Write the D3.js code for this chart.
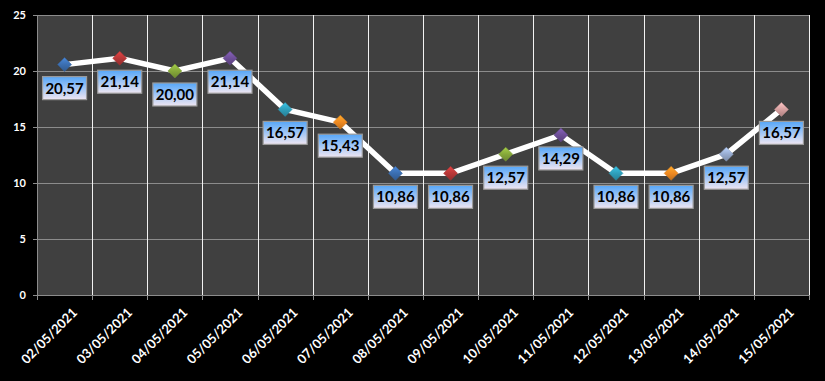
<!DOCTYPE html>
<html><head><meta charset="utf-8">
<script src="https://cdn.jsdelivr.net/npm/d3@7"></script>
<style>
html,body{margin:0;padding:0;background:#000;}
svg{display:block;}
</style></head>
<body>
<svg id="chart" width="825" height="381"></svg>
<script>
const categories = ["02/05/2021","03/05/2021","04/05/2021","05/05/2021","06/05/2021","07/05/2021","08/05/2021","09/05/2021","10/05/2021","11/05/2021","12/05/2021","13/05/2021","14/05/2021","15/05/2021"];
const values = [20.57,21.14,20.00,21.14,16.57,15.43,10.86,10.86,12.57,14.29,10.86,10.86,12.57,16.57];
const valueLabels = ["20,57","21,14","20,00","21,14","16,57","15,43","10,86","10,86","12,57","14,29","10,86","10,86","12,57","16,57"];
const yTicks = [0,5,10,15,20,25];
const markerColors = ["#3b6eb0","#b83838","#86a83a","#6e4f98","#2f9fbb","#ef8a22","#3b6eb0","#b83838","#86a83a","#6e4f98","#2f9fbb","#ef8a22","#98acd0","#d6a0a0"];

const svg = d3.select("#chart");
const W = 825, H = 381;
const m = {left:37, right:16, top:15, bottom:86};
const pw = W - m.left - m.right, ph = H - m.top - m.bottom;

svg.append("rect").attr("width",W).attr("height",H).attr("fill","#000");

const x = d3.scaleBand().domain(categories).range([m.left, m.left+pw]).paddingInner(0).paddingOuter(0);
const y = d3.scaleLinear().domain([0,25]).range([m.top+ph, m.top]);

const defs = svg.append("defs");
const lg = defs.append("linearGradient").attr("id","lblgrad").attr("x1",0).attr("y1",0).attr("x2",0).attr("y2",1);
lg.append("stop").attr("offset","0%").attr("stop-color","#55a6f8");
lg.append("stop").attr("offset","100%").attr("stop-color","#efe6f2");

markerColors.forEach((c,i)=>{
  const g = defs.append("linearGradient").attr("id","mg"+i).attr("x1",0).attr("y1",0).attr("x2",0).attr("y2",1);
  g.append("stop").attr("offset","0%").attr("stop-color", d3.color(c).brighter(0.6));
  g.append("stop").attr("offset","50%").attr("stop-color", c);
  g.append("stop").attr("offset","100%").attr("stop-color", d3.color(c).darker(0.6));
});

// plot area
svg.append("rect").attr("x",m.left).attr("y",m.top).attr("width",pw).attr("height",ph).attr("fill","#404040");

// horizontal gridlines
svg.append("g").selectAll("line").data(yTicks).join("line")
  .attr("x1",m.left-4).attr("x2",m.left+pw)
  .attr("y1",d=>Math.round(y(d))+0.5).attr("y2",d=>Math.round(y(d))+0.5)
  .attr("stroke","#8c8c8c").attr("stroke-width",1);

// vertical gridlines at category boundaries
const bounds = categories.map(c=>x(c)).concat([m.left+pw]);
svg.append("g").selectAll("line").data(bounds.slice(1)).join("line")
  .attr("x1",d=>Math.round(d)+0.5).attr("x2",d=>Math.round(d)+0.5)
  .attr("y1",m.top).attr("y2",m.top+ph)
  .attr("stroke","#f2f2f2").attr("stroke-width",1);

// axes lines
svg.append("line").attr("x1",m.left+0.5).attr("x2",m.left+0.5).attr("y1",m.top).attr("y2",m.top+ph)
  .attr("stroke","#8c8c8c");
svg.append("line").attr("x1",m.left).attr("x2",m.left+pw).attr("y1",Math.round(y(0))+0.5).attr("y2",Math.round(y(0))+0.5)
  .attr("stroke","#8c8c8c");
// x tick marks
svg.append("g").selectAll("line").data(bounds).join("line")
  .attr("x1",d=>Math.round(d)+0.5).attr("x2",d=>Math.round(d)+0.5)
  .attr("y1",m.top+ph).attr("y2",m.top+ph+5)
  .attr("stroke","#8c8c8c");

// y labels
svg.append("g").selectAll("text").data(yTicks).join("text")
  .attr("x",26).attr("y",d=>y(d)).attr("dy","0.35em")
  .attr("text-anchor","end").attr("fill","#fff")
  .attr("font-family","Lato, 'Open Sans', sans-serif").attr("font-weight","bold").attr("font-size","11px")
  .text(d=>d);

// x labels
svg.append("g").selectAll("text").data(categories).join("text")
  .attr("transform",d=>`translate(${x(d)+x.bandwidth()/2+7},${m.top+ph+12}) rotate(-45)`)
  .attr("text-anchor","end").attr("dy","0.7em").attr("fill","#fff")
  .attr("font-family","Lato, 'Open Sans', sans-serif").attr("font-weight","bold").attr("font-size","13px")
  .text(d=>d);

const cx = d => x(d)+x.bandwidth()/2;

// line
const line = d3.line().x((d,i)=>cx(categories[i])).y(d=>y(d));
svg.append("path").datum(values).attr("d",line).attr("fill","none")
  .attr("stroke","#fff").attr("stroke-width",5.5).attr("stroke-linejoin","miter");

// markers
const ms = 7;
svg.append("g").selectAll("path").data(values).join("path")
  .attr("d",(d,i)=>{const px=cx(categories[i]), py=y(d); return `M${px},${py-ms}L${px+ms},${py}L${px},${py+ms}L${px-ms},${py}Z`;})
  .attr("fill",(d,i)=>`url(#mg${i})`)
  .attr("stroke",(d,i)=>d3.color(markerColors[i]).darker(0.3)).attr("stroke-width",0.5);

// data labels
const lbl = svg.append("g").selectAll("g").data(values).join("g")
  .attr("transform",(d,i)=>`translate(${cx(categories[i])},${y(d)+12})`);
const bw = 44, bh = 23;
lbl.append("rect").attr("x",-bw/2).attr("y",0).attr("width",bw).attr("height",bh)
  .attr("fill","url(#lblgrad)").attr("stroke","#9a9a9a").attr("stroke-width",1.2);
lbl.append("text").attr("x",0).attr("y",bh/2).attr("dy","0.36em").attr("text-anchor","middle")
  .attr("fill","#000").attr("font-family","Lato, 'Open Sans', sans-serif").attr("font-weight","bold").attr("font-size","15px")
  .text((d,i)=>valueLabels[i]);
</script>
</body></html>
